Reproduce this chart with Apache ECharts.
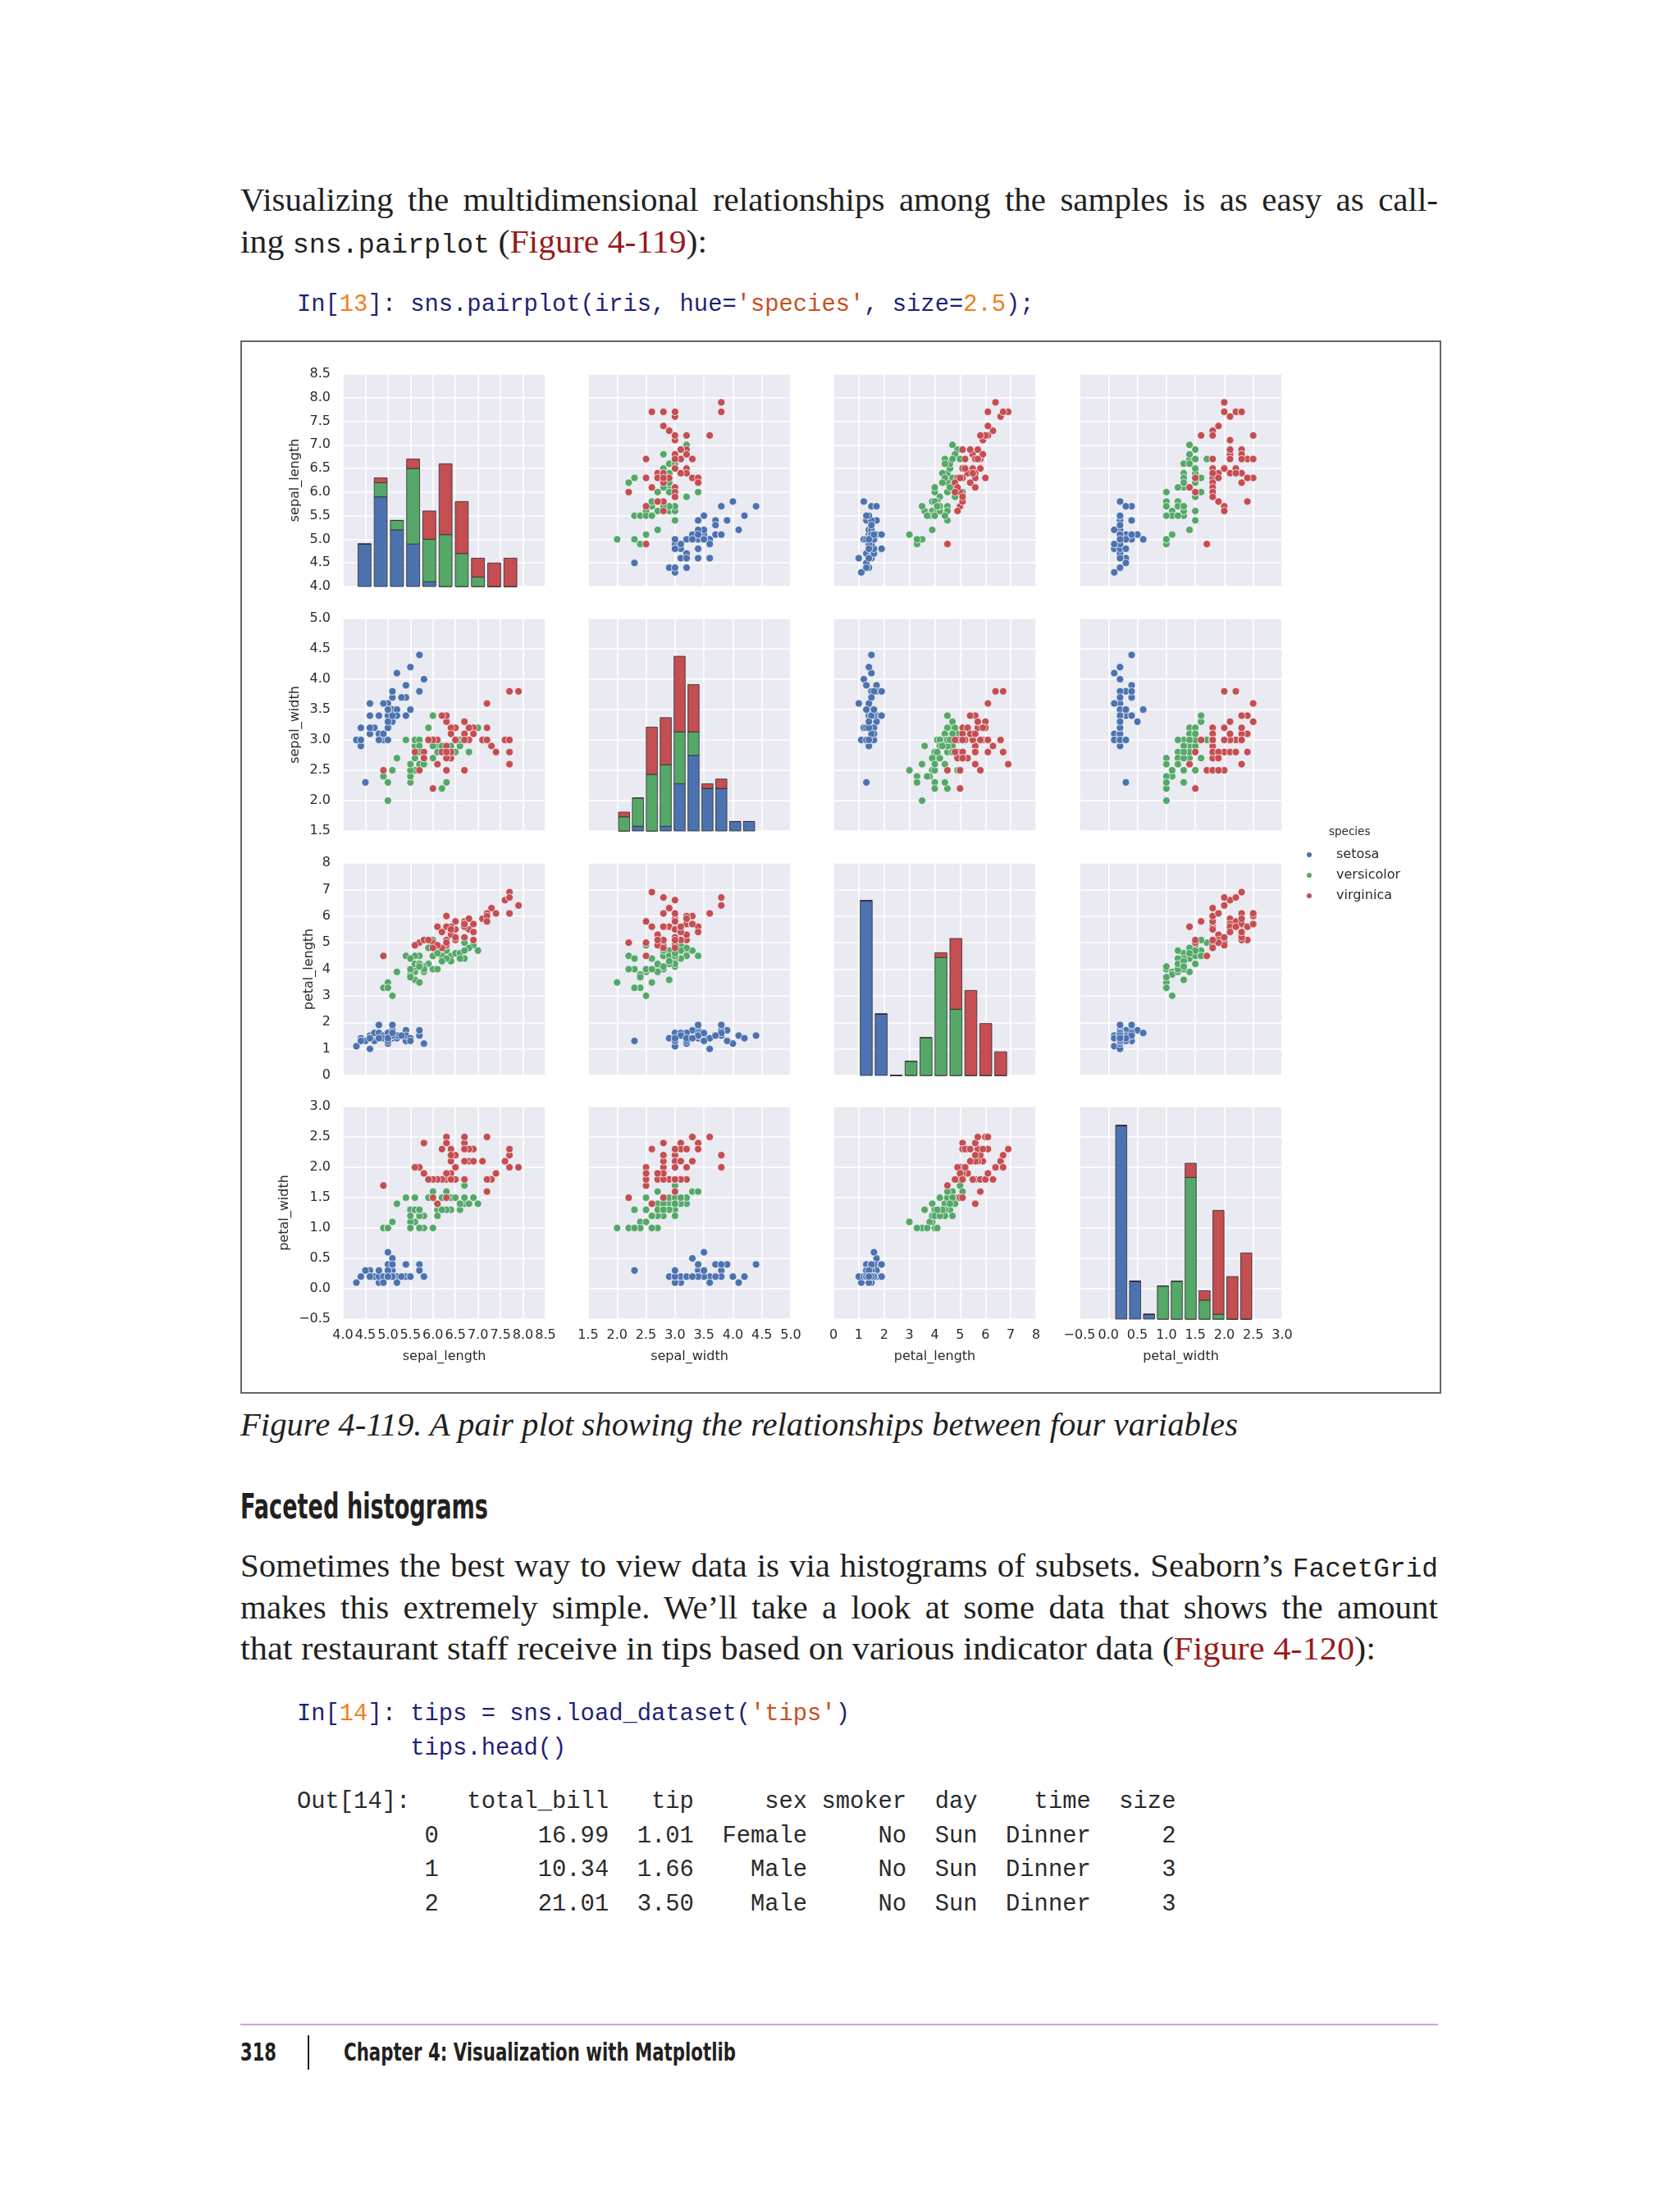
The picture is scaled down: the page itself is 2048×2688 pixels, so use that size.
<!DOCTYPE html>
<html>
<head>
<meta charset="utf-8">
<script src="https://cdn.jsdelivr.net/npm/echarts/dist/echarts.min.js"></script>
<style>
  html, body { margin:0; padding:0; }
  body { width:2048px; height:2688px; position:relative; background:#fff; overflow:hidden; }
  .abs { position:absolute; white-space:nowrap; }
  .serif { font-family:'Liberation Serif','Times New Roman',serif; color:#231f20; }
  .j { left:293px; width:1460px; font-size:41px; line-height:41px; text-align:justify; text-align-last:justify; white-space:normal; }
  .mono { font-family:'Liberation Mono','DejaVu Sans Mono',monospace; }
  .ic { font-family:'Liberation Mono','DejaVu Sans Mono',monospace; font-size:32.8px; }
  .lnk { color:#9a1a1a; }
  .fit { display:inline-block; transform-origin:0 0; }
  .code { font-family:'Liberation Mono','DejaVu Sans Mono',monospace; font-size:28.8px; line-height:28.8px; color:#1f1f78; white-space:pre; }
  .num { color:#f07f1a; }
  .str { color:#c8501e; }
  .out { color:#2a2a2a; }
  .cond { font-family:'Liberation Sans Narrow','DejaVu Sans Condensed','Liberation Sans',sans-serif; color:#231f20; }
  #fig { position:absolute; left:293px; top:415px; width:1460px; height:1280px; border:2px solid #666; }
  #chart { position:absolute; left:0; top:0; width:1460px; height:1280px; }
</style>
</head>
<body>

<div class="abs serif j" style="top:222.7px">Visualizing the multidimensional relationships among the samples is as easy as call-</div>
<div class="abs serif" style="left:293px; top:273.7px; font-size:41px; line-height:41px;"><span class="fit" data-w="569">ing <span class="ic">sns.pairplot</span> (<span class="lnk">Figure 4-119</span>):</span></div>

<div class="abs code" style="left:362px; top:358px;">In[<span class="num">13</span>]: sns.pairplot(iris, hue=<span class="str">'species'</span>, size=<span class="num">2.5</span>);</div>

<div id="fig"><div id="chart"></div></div>

<div class="abs serif" style="left:293px; top:1716.5px; font-size:40px; line-height:40px; font-style:italic;"><span class="fit" data-w="1216">Figure 4-119. A pair plot showing the relationships between four variables</span></div>

<div class="abs cond" style="left:293px; top:1816.4px; font-size:42px; line-height:42px; font-weight:bold;"><span class="fit" data-w="302">Faceted histograms</span></div>

<div class="abs serif j" style="top:1887.7px">Sometimes the best way to view data is via histograms of subsets. Seaborn’s <span class="ic">FacetGrid</span></div>
<div class="abs serif j" style="top:1938.7px">makes this extremely simple. We’ll take a look at some data that shows the amount</div>
<div class="abs serif" style="left:293px; top:1988.7px; font-size:41px; line-height:41px;"><span class="fit" data-w="1384">that restaurant staff receive in tips based on various indicator data (<span class="lnk">Figure 4-120</span>):</span></div>

<div class="abs code" style="left:362px; top:2076px;">In[<span class="num">14</span>]: tips = sns.load_dataset(<span class="str">'tips'</span>)</div>
<div class="abs code" style="left:362px; top:2118px;">        tips.head()</div>

<div class="abs code out" style="left:362px; top:2183px;">Out[14]:    total_bill   tip     sex smoker  day    time  size</div>
<div class="abs code out" style="left:362px; top:2225px;">         0       16.99  1.01  Female     No  Sun  Dinner     2</div>
<div class="abs code out" style="left:362px; top:2266px;">         1       10.34  1.66    Male     No  Sun  Dinner     3</div>
<div class="abs code out" style="left:362px; top:2308px;">         2       21.01  3.50    Male     No  Sun  Dinner     3</div>

<div class="abs" style="left:293px; top:2467px; width:1460px; height:2px; background:#cfa6cf;"></div>
<div class="abs cond" style="left:293px; top:2486.6px; font-size:30px; line-height:30px; font-weight:bold;"><span class="fit" data-w="44">318</span></div>
<div class="abs" style="left:375px; top:2481px; width:2px; height:42px; background:#231f20;"></div>
<div class="abs cond" style="left:419px; top:2486.6px; font-size:30px; line-height:30px; font-weight:bold;"><span class="fit" data-w="478">Chapter 4: Visualization with Matplotlib</span></div>

<script>
// ---------------- data ----------------
const varNames = ['sepal_length', 'sepal_width', 'petal_length', 'petal_width'];
const axisMin = [4.0, 1.5, 0, -0.5];
const axisMax = [8.5, 5.0, 8, 3.0];
const axisStep = [0.5, 0.5, 1, 0.5];
const axisDecimals = [1, 1, 0, 1];
const speciesNames = ['setosa', 'versicolor', 'virginica'];

const setosaSepalLength = [5.1,4.9,4.7,4.6,5.0,5.4,4.6,5.0,4.4,4.9,5.4,4.8,4.8,4.3,5.8,5.7,5.4,5.1,5.7,5.1,5.4,5.1,4.6,5.1,4.8,5.0,5.0,5.2,5.2,4.7,4.8,5.4,5.2,5.5,4.9,5.0,5.5,4.9,4.4,5.1,5.0,4.5,4.4,5.0,5.1,4.8,5.1,4.6,5.3,5.0];
const setosaSepalWidth = [3.5,3.0,3.2,3.1,3.6,3.9,3.4,3.4,2.9,3.1,3.7,3.4,3.0,3.0,4.0,4.4,3.9,3.5,3.8,3.8,3.4,3.7,3.6,3.3,3.4,3.0,3.4,3.5,3.4,3.2,3.1,3.4,4.1,4.2,3.1,3.2,3.5,3.6,3.0,3.4,3.5,2.3,3.2,3.5,3.8,3.0,3.8,3.2,3.7,3.3];
const setosaPetalLength = [1.4,1.4,1.3,1.5,1.4,1.7,1.4,1.5,1.4,1.5,1.5,1.6,1.4,1.1,1.2,1.5,1.3,1.4,1.7,1.5,1.7,1.5,1.0,1.7,1.9,1.6,1.6,1.5,1.4,1.6,1.6,1.5,1.5,1.4,1.5,1.2,1.3,1.4,1.3,1.5,1.3,1.3,1.3,1.6,1.9,1.4,1.6,1.4,1.5,1.4];
const setosaPetalWidth = [0.2,0.2,0.2,0.2,0.2,0.4,0.3,0.2,0.2,0.1,0.2,0.2,0.1,0.1,0.2,0.4,0.4,0.3,0.3,0.3,0.2,0.4,0.2,0.5,0.2,0.2,0.4,0.2,0.2,0.2,0.2,0.4,0.1,0.2,0.2,0.2,0.2,0.1,0.2,0.2,0.3,0.3,0.2,0.6,0.4,0.3,0.2,0.2,0.2,0.2];

const versicolorSepalLength = [7.0,6.4,6.9,5.5,6.5,5.7,6.3,4.9,6.6,5.2,5.0,5.9,6.0,6.1,5.6,6.7,5.6,5.8,6.2,5.6,5.9,6.1,6.3,6.1,6.4,6.6,6.8,6.7,6.0,5.7,5.5,5.5,5.8,6.0,5.4,6.0,6.7,6.3,5.6,5.5,5.5,6.1,5.8,5.0,5.6,5.7,5.7,6.2,5.1,5.7];
const versicolorSepalWidth = [3.2,3.2,3.1,2.3,2.8,2.8,3.3,2.4,2.9,2.7,2.0,3.0,2.2,2.9,2.9,3.1,3.0,2.7,2.2,2.5,3.2,2.8,2.5,2.8,2.9,3.0,2.8,3.0,2.9,2.6,2.4,2.4,2.7,2.7,3.0,3.4,3.1,2.3,3.0,2.5,2.6,3.0,2.6,2.3,2.7,3.0,2.9,2.9,2.5,2.8];
const versicolorPetalLength = [4.7,4.5,4.9,4.0,4.6,4.5,4.7,3.3,4.6,3.9,3.5,4.2,4.0,4.7,3.6,4.4,4.5,4.1,4.5,3.9,4.8,4.0,4.9,4.7,4.3,4.4,4.8,5.0,4.5,3.5,3.8,3.7,3.9,5.1,4.5,4.5,4.7,4.4,4.1,4.0,4.4,4.6,4.0,3.3,4.2,4.2,4.2,4.3,3.0,4.1];
const versicolorPetalWidth = [1.4,1.5,1.5,1.3,1.5,1.3,1.6,1.0,1.3,1.4,1.0,1.5,1.0,1.4,1.3,1.4,1.5,1.0,1.5,1.1,1.8,1.3,1.5,1.2,1.3,1.4,1.4,1.7,1.5,1.0,1.1,1.0,1.2,1.6,1.5,1.6,1.5,1.3,1.3,1.3,1.2,1.4,1.2,1.0,1.3,1.2,1.3,1.3,1.1,1.3];

const virginicaSepalLength = [6.3,5.8,7.1,6.3,6.5,7.6,4.9,7.3,6.7,7.2,6.5,6.4,6.8,5.7,5.8,6.4,6.5,7.7,7.7,6.0,6.9,5.6,7.7,6.3,6.7,7.2,6.2,6.1,6.4,7.2,7.4,7.9,6.4,6.3,6.1,7.7,6.3,6.4,6.0,6.9,6.7,6.9,5.8,6.8,6.7,6.7,6.3,6.5,6.2,5.9];
const virginicaSepalWidth = [3.3,2.7,3.0,2.9,3.0,3.0,2.5,2.9,2.5,3.6,3.2,2.7,3.0,2.5,2.8,3.2,3.0,3.8,2.6,2.2,3.2,2.8,2.8,2.7,3.3,3.2,2.8,3.0,2.8,3.0,2.8,3.8,2.8,2.8,2.6,3.0,3.4,3.1,3.0,3.1,3.1,3.1,2.7,3.2,3.3,3.0,2.5,3.0,3.4,3.0];
const virginicaPetalLength = [6.0,5.1,5.9,5.6,5.8,6.6,4.5,6.3,5.8,6.1,5.1,5.3,5.5,5.0,5.1,5.3,5.5,6.7,6.9,5.0,5.7,4.9,6.7,4.9,5.7,6.0,4.8,4.9,5.6,5.8,6.1,6.4,5.6,5.1,5.6,6.1,5.6,5.5,4.8,5.4,5.6,5.1,5.1,5.9,5.7,5.2,5.0,5.2,5.4,5.1];
const virginicaPetalWidth = [2.5,1.9,2.1,1.8,2.2,2.1,1.7,1.8,1.8,2.5,2.0,1.9,2.1,2.0,2.4,2.3,1.8,2.2,2.3,1.5,2.3,2.0,2.0,1.8,2.1,1.8,1.8,1.8,2.1,1.6,1.9,2.0,2.2,1.5,1.4,2.3,2.4,1.8,1.8,2.1,2.4,2.3,1.9,2.3,2.5,2.3,1.9,2.0,2.3,1.8];

// histogram bin edges (10 bins each) and stacked counts per species
const sepalLengthBinEdges = [4.3,4.66,5.02,5.38,5.74,6.10,6.46,6.82,7.18,7.54,7.9];
const sepalWidthBinEdges  = [2.0,2.24,2.48,2.72,2.96,3.20,3.44,3.68,3.92,4.16,4.4];
const petalLengthBinEdges = [1.0,1.59,2.18,2.77,3.36,3.95,4.54,5.13,5.72,6.31,6.9];
const petalWidthBinEdges  = [0.1,0.34,0.58,0.82,1.06,1.30,1.54,1.78,2.02,2.26,2.5];

const sepalLengthHistSetosa     = [9,19,12,9,1,0,0,0,0,0];
const sepalLengthHistVersicolor = [0,3,2,16,9,11,7,2,0,0];
const sepalLengthHistVirginica  = [0,1,0,2,6,15,11,4,5,6];
const sepalWidthHistSetosa      = [0,1,0,1,10,16,9,9,2,2];
const sepalWidthHistVersicolor  = [3,6,12,13,11,5,0,0,0,0];
const sepalWidthHistVirginica   = [1,0,10,10,16,10,1,2,0,0];
const petalLengthHistSetosa     = [37,13,0,0,0,0,0,0,0,0];
const petalLengthHistVersicolor = [0,0,0,3,8,25,14,0,0,0];
const petalLengthHistVirginica  = [0,0,0,0,0,1,15,18,11,5];
const petalWidthHistSetosa      = [41,8,1,0,0,0,0,0,0,0];
const petalWidthHistVersicolor  = [0,0,0,7,8,30,4,1,0,0];
const petalWidthHistVirginica   = [0,0,0,0,0,3,2,22,9,14];
const histCountMax = 45;

// ---------------- text width fitting ----------------
document.querySelectorAll('.fit').forEach(el => {
  const target = parseFloat(el.getAttribute('data-w'));
  const w = el.getBoundingClientRect().width;
  if (w > 0) el.style.transform = 'scaleX(' + (target / w) + ')';
});

// ---------------- chart ----------------
const speciesData = {
  setosa: [setosaSepalLength, setosaSepalWidth, setosaPetalLength, setosaPetalWidth],
  versicolor: [versicolorSepalLength, versicolorSepalWidth, versicolorPetalLength, versicolorPetalWidth],
  virginica: [virginicaSepalLength, virginicaSepalWidth, virginicaPetalLength, virginicaPetalWidth]
};
const speciesHist = {
  setosa: [sepalLengthHistSetosa, sepalWidthHistSetosa, petalLengthHistSetosa, petalWidthHistSetosa],
  versicolor: [sepalLengthHistVersicolor, sepalWidthHistVersicolor, petalLengthHistVersicolor, petalWidthHistVersicolor],
  virginica: [sepalLengthHistVirginica, sepalWidthHistVirginica, petalLengthHistVirginica, petalWidthHistVirginica]
};
const binEdges = [sepalLengthBinEdges, sepalWidthBinEdges, petalLengthBinEdges, petalWidthBinEdges];
const colors = { setosa: '#4C72B0', versicolor: '#55A868', virginica: '#C44E52' };

const FONT = 'DejaVu Sans';
const TXT = '#2b2b2b';
const panelLeft = [123, 422, 721, 1021];
const panelTop = [39, 337, 635, 932];
const panelW = 247, panelH = 259;
const yNameGap = [50, 50, 33, 63];

function fmt(dec) {
  return v => (v < -1e-9 ? '\u2212' : '') + Math.abs(v).toFixed(dec);
}

const grids = [], xAxes = [], yAxes = [], series = [], customSeries = [];
for (let r = 0; r < 4; r++) {
  for (let c = 0; c < 4; c++) {
    const g = r * 4 + c;
    grids.push({
      left: panelLeft[c], top: panelTop[r], width: panelW, height: panelH,
      show: true, backgroundColor: '#EAEAF2', borderWidth: 0, containLabel: false, outerBoundsMode: 'none'
    });
    xAxes.push({
      type: 'value', gridIndex: g, min: axisMin[c], max: axisMax[c], interval: axisStep[c],
      axisLine: { show: false }, axisTick: { show: false },
      splitLine: { show: true, lineStyle: { color: '#ffffff', width: 1.6 } },
      axisLabel: { show: r === 3, formatter: fmt(axisDecimals[c]), fontFamily: FONT, fontSize: 16, color: TXT, margin: 12, hideOverlap: false },
      name: r === 3 ? varNames[c] : '', nameLocation: 'middle', nameGap: 38, nameMoveOverlap: false,
      nameTextStyle: { fontFamily: FONT, fontSize: 16, color: TXT }
    });
    yAxes.push({
      type: 'value', gridIndex: g, min: axisMin[r], max: axisMax[r], interval: axisStep[r],
      axisLine: { show: false }, axisTick: { show: false },
      splitLine: { show: true, lineStyle: { color: '#ffffff', width: 1.6 } },
      axisLabel: { show: c === 0, formatter: fmt(axisDecimals[r]), fontFamily: FONT, fontSize: 16, color: TXT, margin: 15, hideOverlap: false },
      name: c === 0 ? varNames[r] : '', nameLocation: 'middle', nameRotate: 90, nameGap: yNameGap[r], nameMoveOverlap: false,
      nameTextStyle: { fontFamily: FONT, fontSize: 16, color: TXT }
    });
    if (r !== c) {
      speciesNames.forEach(sp => {
        const xs = speciesData[sp][c], ys = speciesData[sp][r];
        series.push({
          type: 'scatter', name: sp, xAxisIndex: g, yAxisIndex: g,
          data: xs.map((x, i) => [x, ys[i]]),
          symbol: 'circle', symbolSize: 9,
          itemStyle: { color: colors[sp], borderColor: '#ffffff', borderWidth: 0.7, opacity: 1 },
          emphasis: { disabled: true }, silent: true
        });
      });
    }
  }
}
// hidden count axes for the diagonal histograms
for (let d = 0; d < 4; d++) {
  yAxes.push({ type: 'value', gridIndex: d * 4 + d, min: 0, max: histCountMax, show: false, splitLine: { show: false } });
}
for (let d = 0; d < 4; d++) {
  const g = d * 4 + d;
  const edges = binEdges[d];
  const base = new Array(10).fill(0);
  speciesNames.forEach(sp => {
    const counts = speciesHist[sp][d];
    const items = counts.map((cnt, i) => [edges[i], edges[i + 1], base[i], base[i] + cnt]);
    counts.forEach((cnt, i) => { base[i] += cnt; });
    const col = colors[sp];
    customSeries.push({
      type: 'custom', name: sp, xAxisIndex: g, yAxisIndex: 16 + d,
      encode: { x: [0, 1], y: [2, 3] }, clip: false, silent: true,
      data: items,
      renderItem: (params, api) => {
        const lo = api.value(0), hi = api.value(1), b = api.value(2), t = api.value(3);
        const w = hi - lo;
        const p0 = api.coord([lo + w * 0.1, t]);
        const p1 = api.coord([hi - w * 0.1, b]);
        return {
          type: 'rect',
          shape: { x: p0[0], y: p0[1], width: p1[0] - p0[0], height: p1[1] - p0[1] },
          style: { fill: col, stroke: 'rgba(45,45,45,0.8)', lineWidth: 1 }
        };
      }
    });
  });
}

const chart = echarts.init(document.getElementById('chart'), null, { renderer: 'canvas' });
chart.setOption({
  animation: false,
  backgroundColor: '#ffffff',
  grid: grids,
  xAxis: xAxes,
  yAxis: yAxes,
  legend: {
    orient: 'vertical', left: 1298, top: 615, padding: 0,
    itemWidth: 56, itemHeight: 6, itemGap: 5, selectedMode: false,
    data: speciesNames.map(sp => ({ name: sp, icon: 'circle', itemStyle: { color: colors[sp], borderWidth: 0 } })),
    textStyle: { fontFamily: FONT, fontSize: 16, color: TXT, lineHeight: 20 }
  },
  graphic: [{
    type: 'text', left: 1325, top: 590,
    style: { text: 'species', fontFamily: FONT, fontSize: 13.5, fill: TXT }
  }],
  series: series.concat(customSeries)
});
</script>
</body>
</html>
